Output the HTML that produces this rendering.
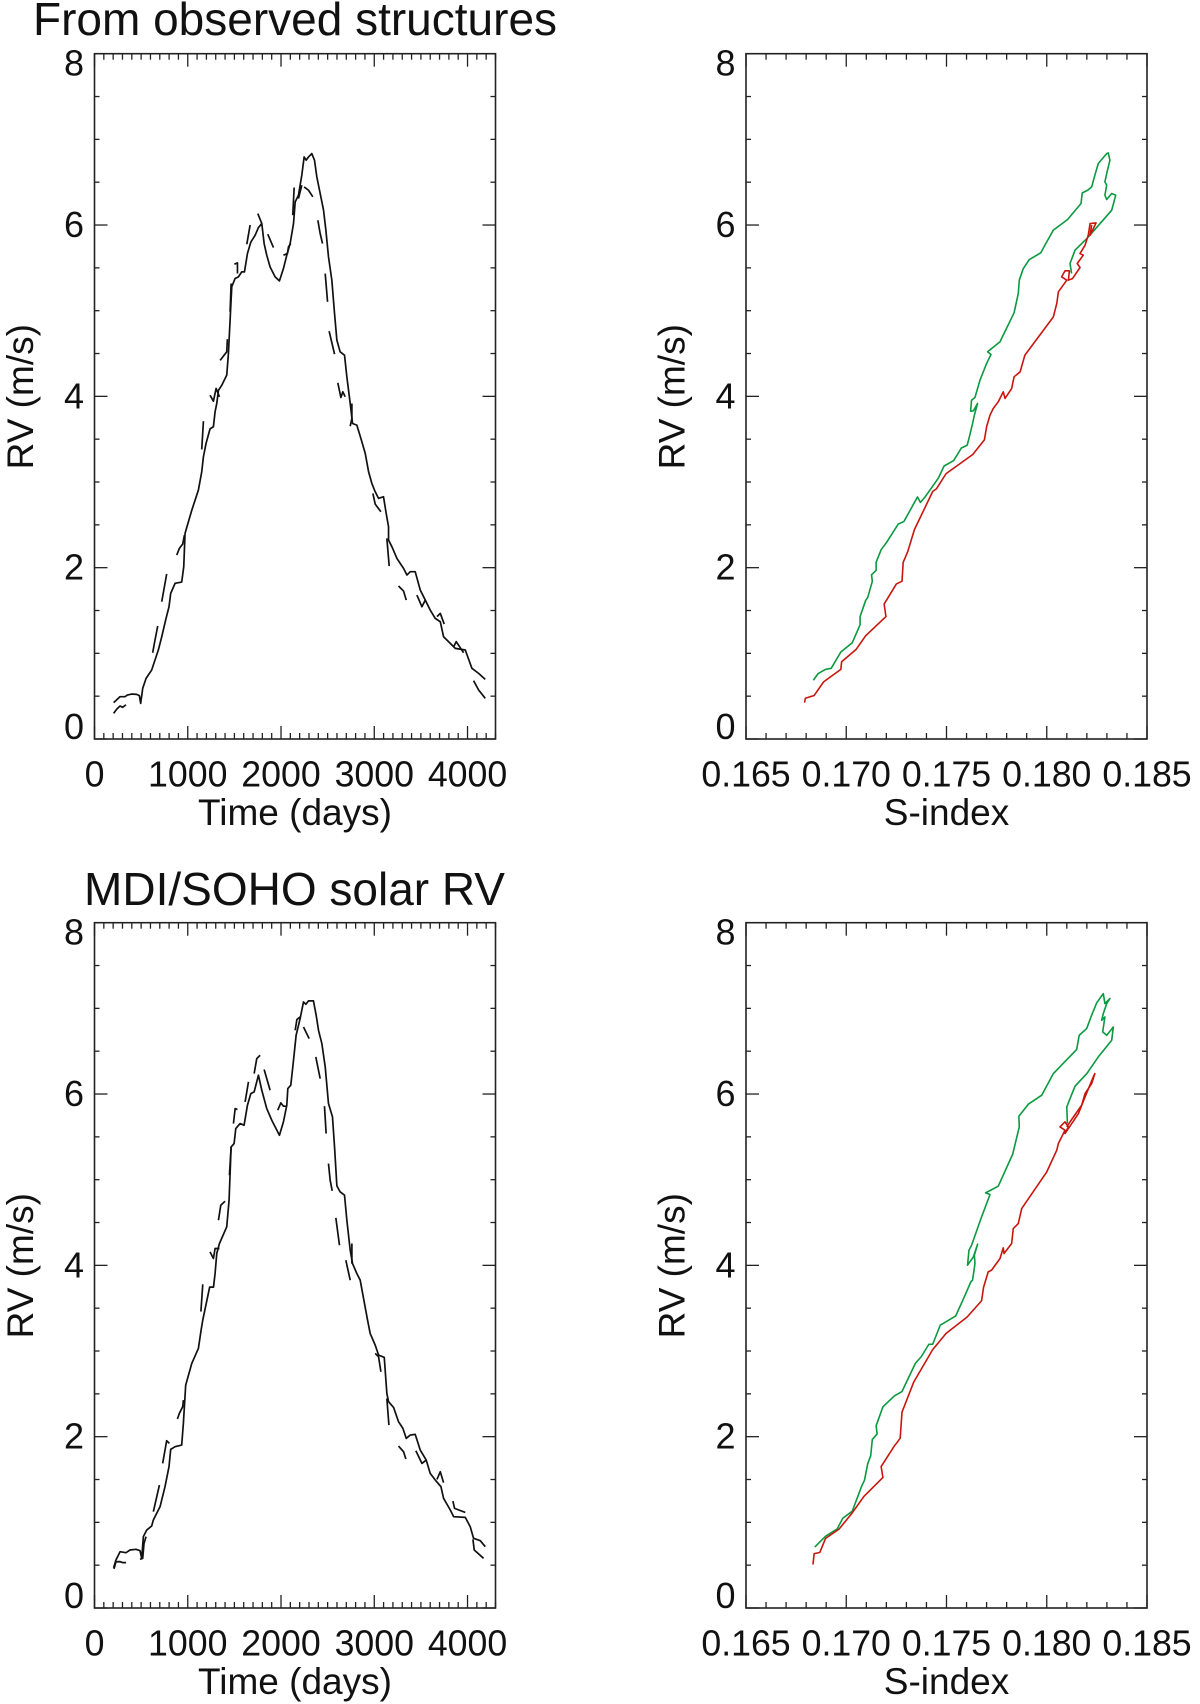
<!DOCTYPE html>
<html lang="en">
<head>
<meta charset="utf-8">
<title>RV vs time and S-index</title>
<style>
html,body{margin:0;padding:0;background:#fff;}
svg{display:block;}
text{font-family:"Liberation Sans",Arial,sans-serif;fill:#111;}
</style>
</head>
<body>
<svg id="figure" xmlns="http://www.w3.org/2000/svg" width="1200" height="1704" viewBox="0 0 1200 1704">
<rect x="0" y="0" width="1200" height="1704" fill="#fff"/>
<text x="295" y="35" font-size="46" text-anchor="middle">From observed structures</text>
<text x="294.5" y="905" font-size="46" text-anchor="middle">MDI/SOHO solar RV</text>
</svg>
<script>
// ---------- tick data ----------
const rvTicks=[0,2,4,6,8];
const rvTickLabels=['0','2','4','6','8'];
const timeTicks=[0,1000,2000,3000,4000];
const timeTickLabels=['0','1000','2000','3000','4000'];
const sIndexTicks=[0.165,0.170,0.175,0.180,0.185];
const sIndexTickLabels=['0.165','0.170','0.175','0.180','0.185'];

// ---------- observed structures: RV vs time ----------
const obsDays=[205,230,250,274,327,352,399,452,481,495,
517,553,613,649,685,721,767,799,817,864,
935,957,971,1043,1114,1150,1168,1196,1239,1275,
1293,1311,1329,1365,1418,1436,1454,1472,1508,1543,
1579,1608,1640,1676,1722,1758,1794,1819,1847,1883,
1937,1983,2026,2062,2098,2134,2152,2187,2223,2248,
2270,2295,2330,2359,2384,2420,2456,2481,2509,2545,
2574,2599,2634,2681,2706,2742,2767,2813,2860,2903,
2939,2974,3010,3046,3099,3128,3153,3153,3189,3243,
3314,3350,3386,3439,3493,3547,3600,3654,3708,3743,
3815,3869,3976,4047,4119,4190];
const obsRv=[.425,.45,.47,.494,.494,.513,.525,.521,.506,.416,
.591,.708,.805,.922,1.04,1.194,1.408,1.544,1.70,1.817,
1.832,2.011,2.40,2.67,2.906,3.12,3.295,3.45,3.62,3.645,
3.82,3.917,4.07,4.13,4.248,4.50,4.89,5.28,5.376,5.395,
5.453,5.453,5.667,5.80,5.88,5.97,6.017,5.784,5.648,5.51,
5.395,5.348,5.492,5.648,5.784,6.017,6.27,6.348,6.582,6.795,
6.757,6.795,6.834,6.757,6.562,6.368,6.173,5.94,5.63,5.356,
4.967,4.656,4.52,4.48,4.228,3.917,3.683,3.664,3.497,3.334,
3.12,2.984,2.886,2.809,2.828,2.633,2.478,2.322,2.245,2.108,
1.992,1.914,1.953,1.953,1.739,1.622,1.505,1.408,1.369,1.194,
1.116,1.058,1.039,.825,.766,.696];
const obsDashDays=[205,240,274,302,338,null,624,642,678,null,721,774,null,882,910,946,964,null,1150,1168,null,
1239,1275,1304,1340,null,1347,1418,1425,null,1454,1465,null,1500,1533,1533,null,1633,1669,null,1751,1794,null,
1858,1919,null,2026,2069,2080,2105,null,2126,2141,null,2187,2223,null,2248,2295,2341,null,2395,2420,2445,null,
2474,2499,null,2516,2574,null,2609,2642,2663,2688,null,2760,2760,2742,null,2985,3010,3071,null,3135,3160,null,
3260,3314,3343,null,3457,3511,3547,null,3672,3708,3750,null,3851,3879,3958,null,4065,4119,4190];
const obsDashRv=[.30,.35,.385,.37,.40,null,1.007,1.116,1.319,null,1.603,1.926,null,2.147,2.225,2.276,2.38,null,3.38,3.71,null,
4.014,3.944,4.092,3.995,null,4.42,4.52,4.668,null,4.987,5.317,null,5.543,5.558,5.434,null,5.776,6.0,null,6.134,6.017,null,
5.893,5.737,null,5.648,5.667,5.745,5.784,null,6.115,6.438,null,6.309,6.465,null,6.445,6.406,6.329,null,6.056,5.90,5.784,null,
5.434,5.103,null,4.761,4.493,null,4.158,3.987,4.053,3.995,null,3.917,3.742,3.652,null,2.867,2.742,2.653,null,2.342,2.019,null,
1.786,1.727,1.622,null,1.68,1.544,1.622,null,1.428,1.466,1.342,null,1.077,1.136,1.007,null,.681,.572,.475];

// ---------- MDI/SOHO: RV vs time ----------
const mdiDays=[205,230,274,338,381,445,488,506,524,560,
613,631,703,756,799,817,864,935,953,978,
1043,1114,1143,1161,1235,1276,1293,1311,1340,1418,
1443,1465,1497,1515,1561,1604,1640,1676,1712,1758,
1794,1847,1901,1955,1983,2026,2062,2073,2105,2134,
2162,2205,2241,2266,2295,2348,2377,2402,2438,2474,
2509,2552,2574,2599,2634,2681,2706,2742,2767,2813,
2849,2928,2956,3010,3046,3107,3135,3153,3207,3260,
3307,3343,3386,3439,3493,3557,3600,3654,3715,3743,
3815,3851,3976,4029,4065,4137,4190];
const mdiRv=[.47,.56,.657,.646,.677,.685,.669,.58,.833,.91,
.957,1.027,1.183,1.416,1.65,1.852,1.883,1.902,2.155,2.602,
2.855,3.03,3.244,3.361,3.746,3.746,3.905,4.138,4.255,4.45,
4.76,5.383,5.422,5.597,5.655,5.636,5.869,6.005,6.025,6.22,
6.044,5.83,5.694,5.578,5.519,5.675,5.869,6.064,6.103,6.394,
6.686,6.881,7.075,7.048,7.087,7.087,6.92,6.744,6.589,6.317,
5.889,5.733,5.383,4.928,4.858,4.819,4.527,4.177,4.021,3.905,
3.827,3.361,3.205,3.069,2.953,2.925,2.505,2.408,2.342,2.175,
2.097,1.98,2.019,2.027,1.844,1.727,1.572,1.494,1.416,1.28,
1.144,1.066,1.058,.949,.813,.786,.716];
const mdiDashDays=[209,230,274,302,338,null,488,517,531,553,null,631,696,null,731,774,803,null,889,910,946,953,null,1141,1161,null,
1239,1275,1293,1340,null,1329,1354,1400,null,1447,1465,null,1490,1508,1533,null,1615,1651,null,1712,1740,1776,null,
1819,1883,null,1965,1998,2026,2062,null,2152,2170,2205,null,2241,2302,null,2373,2420,null,2466,2484,null,2509,2527,2549,null,
2588,2627,null,2695,2742,null,2760,2760,null,3010,3046,3071,null,3135,3157,null,3260,3314,3339,null,3446,3511,3557,null,
3672,3708,3743,null,3843,3861,3976,null,4058,4072,4172];
const mdiDashRv=[.457,.54,.541,.53,.53,null,.568,.58,.755,.833,null,1.124,1.435,null,1.688,1.953,1.922,null,2.206,2.272,2.35,2.427,null,3.46,3.778,null,
4.158,4.08,4.197,4.197,null,4.527,4.702,4.749,null,5.052,5.383,null,5.655,5.83,5.819,null,5.908,6.142,null,6.239,6.414,6.453,null,
6.286,6.044,null,5.811,5.896,5.858,5.858,null,6.744,6.869,6.9,null,6.783,6.647,null,6.433,6.18,null,5.858,5.539,null,5.188,4.994,4.87,null,
4.554,4.235,null,4.06,3.827,null,4.255,4.02,null,2.972,2.933,2.758,null,2.447,2.136,null,1.89,1.824,1.739,null,1.836,1.688,1.727,null,
1.501,1.591,1.463,null,1.249,1.163,1.116,null,.801,.677,.58];

// ---------- observed structures: RV vs S-index ----------
const obsGreenS=[.16836,.16859,.16897,.16925,.16973,.1703,.17069,.17069,.17097,.17107,
.1713,.17126,.17149,.17149,.17174,.17202,.17259,.17288,.17355,.1737,
.17393,.1746,.17488,.17536,.17574,.17603,.17612,.1763,.17639,.17655,
.17634,.1762,.17625,.17642,.17667,.177,.17722,.17705,.17767,.17837,
.17858,.17863,.17883,.17913,.1797,.17991,.18033,.18104,.18171,.18177,
.18204,.18224,.1824,.18257,.18299,.18307,.18315,.18299,.1829,.18299,
.1829,.18299,.18324,.18344,.18324,.18266,.182,.18166,.18141,.18116,.18124];
const obsGreenRv=[.686,.762,.813,.825,1.016,1.124,1.333,1.429,1.619,1.651,
1.841,1.917,1.968,2.063,2.21,2.298,2.508,2.54,2.825,2.762,
2.825,3.048,3.187,3.25,3.397,3.429,3.508,3.683,3.781,3.917,
3.831,3.827,3.956,3.987,4.189,4.384,4.489,4.52,4.637,4.975,
5.201,5.356,5.492,5.597,5.675,5.765,5.94,6.064,6.251,6.375,
6.406,6.445,6.582,6.718,6.834,6.842,6.757,6.601,6.504,6.465,
6.348,6.298,6.368,6.348,6.173,6.017,5.842,5.765,5.706,5.551,5.434];
const obsRedS=[.16792,.16796,.1684,.16887,.16973,.16977,.1705,.17097,.17198,.17189,
.1725,.17278,.17284,.17307,.1734,.17431,.1745,.17498,.17631,.17689,
.177,.17717,.17733,.17758,.17783,.17792,.17825,.17837,.17867,.17891,
.18033,.1805,.18058,.181,.18074,.18091,.18113,.18108,.18129,.18166,
.18152,.18182,.18166,.18191,.18207,.18216,.18246,.18216,.18224];
const obsRedRv=[.425,.476,.508,.667,.813,.902,1.048,1.206,1.429,1.575,
1.81,1.841,2.063,2.19,2.444,2.889,2.921,3.098,3.321,3.492,
3.645,3.781,3.858,3.936,4.053,3.975,4.092,4.228,4.286,4.481,
4.928,5.084,5.22,5.356,5.395,5.465,5.465,5.356,5.376,5.504,
5.551,5.648,5.667,5.765,5.881,6.017,6.025,5.881,6.0];

// ---------- MDI/SOHO: RV vs S-index ----------
const mdiGreenS=[.16843,.16897,.16954,.16983,.1703,.17078,.17091,.17107,.17122,.1713,
.17154,.17149,.17183,.17206,.1724,.17278,.17345,.17374,.17412,.17431,
.17469,.17546,.17584,.17622,.1763,.17642,.17639,.17655,.17634,.17605,
.17612,.17625,.17675,.17717,.17695,.17758,.1783,.17863,.17861,.17908,
.17975,.18033,.18149,.18162,.18199,.18224,.18249,.18282,.1829,.18315,
.18299,.18282,.18274,.1829,.18279,.18299,.18332,.18324,.18257,.182,
.18141,.18113,.181,.18103];
const mdiGreenRv=[.711,.838,.921,1.048,1.13,1.429,1.492,1.683,1.778,1.968,
2.032,2.127,2.349,2.4,2.476,2.527,2.857,2.933,3.079,3.079,
3.302,3.41,3.606,3.81,3.827,4.021,4.119,4.247,4.099,4.002,
4.177,4.235,4.566,4.827,4.846,4.924,5.297,5.616,5.741,5.881,
5.986,6.239,6.519,6.686,6.764,6.92,7.063,7.172,7.056,7.114,
7.056,6.939,6.861,6.9,6.725,6.686,6.783,6.628,6.433,6.239,
6.091,5.928,5.85,5.655];
const mdiRedS=[.16834,.1684,.16868,.16897,.16964,.1703,.17088,.17183,.17174,.1724,
.17269,.17278,.17336,.17431,.17498,.17603,.17675,.17685,.17708,.17725,
.17767,.17783,.17787,.17825,.17833,.17858,.17875,.18,.1805,.18058,
.18091,.18066,.18091,.18108,.18091,.18158,.18191,.18232,.1824,.18224,
.18191,.18174,.18116,.181];
const mdiRedRv=[.508,.635,.648,.813,.921,1.111,1.302,1.524,1.651,1.892,
1.981,2.286,2.635,3.016,3.206,3.397,3.587,3.746,3.924,3.944,
4.08,4.204,4.138,4.255,4.43,4.488,4.663,5.091,5.344,5.422,
5.578,5.616,5.675,5.616,5.539,5.772,5.966,6.2,6.239,6.122,
6.005,5.869,5.675,5.616];

// ---------- layout ----------
const SVGNS='http://www.w3.org/2000/svg';
const figure=document.getElementById('figure');
const PANEL_W=401, PANEL_H=685.3;
const INK='#222';
const RED='#c8160e', GREEN='#0a9a40', BLACK='#111';

function el(tag,attrs,parent,text){
  const node=document.createElementNS(SVGNS,tag);
  for(const k in attrs){node.setAttribute(k,attrs[k]);}
  if(text!==undefined){node.textContent=text;}
  parent.appendChild(node);
  return node;
}
function linePath(xs,ys,sx,sy){
  let d='',pen=false;
  for(let i=0;i<xs.length;i++){
    if(xs[i]===null||ys[i]===null||ys[i]===undefined){pen=false;continue;}
    d+=(pen?'L':'M')+sx(xs[i]).toFixed(2)+' '+sy(ys[i]).toFixed(2);
    pen=true;
  }
  return d;
}
function drawTick(g,x1,y1,x2,y2){
  const t=el('line',{x1:x1,y1:y1,x2:x2,y2:y2,stroke:INK,'stroke-width':1.3},g);
  
  
}
function drawAxes(g,p){
  const L=p.left,T=p.top,R=L+PANEL_W,B=T+PANEL_H;
  const sx=v=>L+(v-p.xMin)/(p.xMax-p.xMin)*PANEL_W;
  const sy=v=>B-(v-0)/8*PANEL_H;
  const frame=el('rect',{x:L,y:T,width:PANEL_W,height:PANEL_H,fill:'none',stroke:INK,'stroke-width':1.6},g);
  
  
  // y ticks: minor every 0.5, major every 2
  for(let i=0;i<=16;i++){
    const v=i*0.5, len=(i%4===0)?13:5, y=sy(v);
    drawTick(g,L,y,L+len,y);
    drawTick(g,R,y,R-len,y);
  }
  // x ticks
  const nMinor=Math.round((p.xMax-p.xMin)/p.xMinorStep);
  for(let i=0;i<=nMinor;i++){
    const v=p.xMin+i*p.xMinorStep, x=sx(v);
    const major=p.xTicks.some(m=>Math.abs(m-v)<p.xMinorStep/10);
    const len=major?13:6;
    drawTick(g,x,B,x,B-len);
    drawTick(g,x,T,x,T+len);
  }
  // y tick labels, kept inside the frame's vertical span
  rvTicks.forEach((v,i)=>{
    const cy=Math.min(B-12,Math.max(T+10,sy(v)));
    const t=el('text',{x:L-10.5,y:cy+12,'font-size':36,'text-anchor':'end'},g,rvTickLabels[i]);
    
    
  });
  // x tick labels
  p.xTicks.forEach((v,i)=>{
    const t=el('text',{x:sx(v),y:B+47.5,'font-size':35.7,'text-anchor':'middle'},g,p.xLabels[i]);
    
    
  });
  // axis titles
  const xt=el('text',{x:L+PANEL_W/2,y:B+86,'font-size':37,'text-anchor':'middle'},g,p.xTitle);
  
  
  const ty=T+343, tx=L-61.5;
  const yt=el('text',{x:tx,y:ty,'font-size':37,'text-anchor':'middle',transform:'rotate(-90 '+tx+' '+ty+')'},g,'RV (m/s)');
  
  
  return {sx,sy};
}
function timeConfig(top){
  return {left:94.5,top:top,xMin:0,xMax:4300,xMinorStep:100,xTicks:timeTicks,xLabels:timeTickLabels,xTitle:'Time (days)'};
}
function sIndexConfig(top){
  return {left:746,top:top,xMin:0.165,xMax:0.185,xMinorStep:0.001,xTicks:sIndexTicks,xLabels:sIndexTickLabels,xTitle:'S-index'};
}
function drawTimePanel(top,days,rv,dashDays,dashRv){
  const g=el('g',{},figure);
  
  
  const a=drawAxes(g,timeConfig(top));
  const solid=el('path',{d:linePath(days,rv,a.sx,a.sy),fill:'none',stroke:BLACK,'stroke-width':1.7,'stroke-linejoin':'round'},g);
  
  
  const dash=el('path',{d:linePath(dashDays,dashRv,a.sx,a.sy),fill:'none',stroke:BLACK,'stroke-width':1.7,'stroke-linejoin':'round'},g);
  
  
}
function drawSIndexPanel(top,greenS,greenRv,redS,redRv){
  const g=el('g',{},figure);
  
  
  const a=drawAxes(g,sIndexConfig(top));
  const green=el('path',{d:linePath(greenS,greenRv,a.sx,a.sy),fill:'none',stroke:GREEN,'stroke-width':1.6,'stroke-linejoin':'round'},g);
  
  
  const red=el('path',{d:linePath(redS,redRv,a.sx,a.sy),fill:'none',stroke:RED,'stroke-width':1.6,'stroke-linejoin':'round'},g);
  
  
}

drawTimePanel(53.7,obsDays,obsRv,obsDashDays,obsDashRv);
drawSIndexPanel(53.7,obsGreenS,obsGreenRv,obsRedS,obsRedRv);
drawTimePanel(922.7,mdiDays,mdiRv,mdiDashDays,mdiDashRv);
drawSIndexPanel(922.7,mdiGreenS,mdiGreenRv,mdiRedS,mdiRedRv);
</script>
</body>
</html>
